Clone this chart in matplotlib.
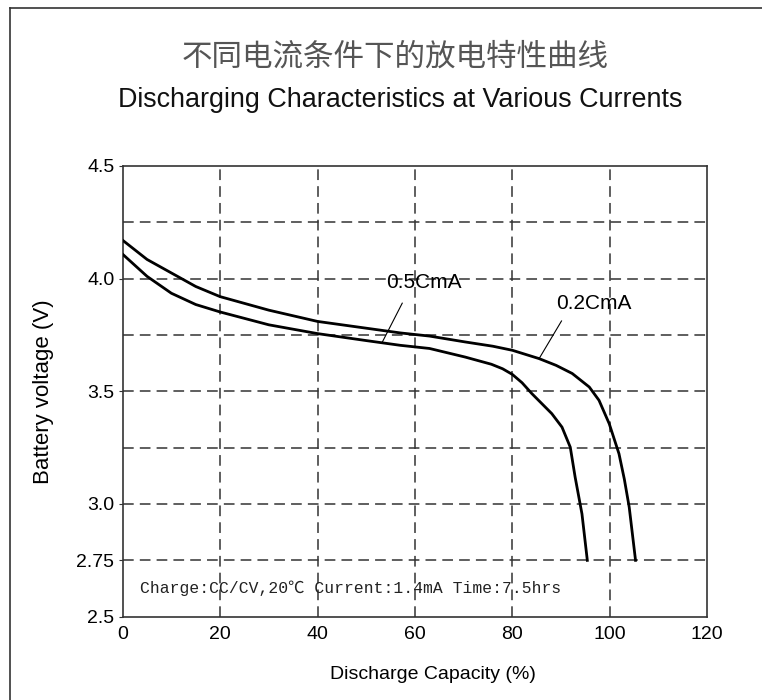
import numpy as np
import matplotlib
matplotlib.use("Agg")
import matplotlib.pyplot as plt
from matplotlib.lines import Line2D

# discharge curves
cap_02 = [0, 5, 10, 15, 20, 30, 40, 50, 57, 63, 70.3, 76, 80, 85.5, 89, 92.3, 95.8, 97.8,
          99.9, 101.9, 103, 104, 105.3]
volt_02 = [4.17, 4.085, 4.025, 3.965, 3.92, 3.86, 3.81, 3.78, 3.759, 3.745, 3.719, 3.70,
           3.682, 3.645, 3.615, 3.579, 3.519, 3.46, 3.356, 3.223, 3.11, 2.986, 2.75]

cap_05 = [0, 5, 10, 15, 20, 30, 40, 50, 57, 63, 70.3, 75.7, 78, 80, 82, 84, 88.1, 90.2, 91.9,
          92.9, 94.3, 95.4]
volt_05 = [4.108, 4.01, 3.935, 3.885, 3.852, 3.795, 3.756, 3.725, 3.704, 3.69, 3.652, 3.62,
           3.60, 3.575, 3.538, 3.49, 3.401, 3.341, 3.252, 3.119, 2.956, 2.75]

x_ticks = [0, 20, 40, 60, 80, 100, 120]
y_ticks = [2.5, 2.75, 3.0, 3.5, 4.0, 4.5]
y_tick_labels = ['2.5', '2.75', '3.0', '3.5', '4.0', '4.5']
y_grid = [2.75, 3.0, 3.25, 3.5, 3.75, 4.0, 4.25]
x_grid = [20, 40, 60, 80, 100]

title_cn = "不同电流条件下的放电特性曲线"
title_en = "Discharging Characteristics at Various Currents"
note = "Charge:CC/CV,20℃ Current:1.4mA Time:7.5hrs"

sans = ['Liberation Sans', 'DejaVu Sans']

fig = plt.figure(figsize=(7.62, 7.0), dpi=100)
ax = fig.add_axes([0.161, 0.119, 0.767, 0.644])

for yv in y_grid:
    ax.axhline(yv, color='#333333', lw=1.1, ls=(0, (7, 4)), zorder=1)
for xv in x_grid:
    ax.axvline(xv, color='#333333', lw=1.1, ls=(0, (7, 4)), zorder=1)

ax.plot(cap_02, volt_02, color='black', lw=2.0, zorder=3, solid_joinstyle='round')
ax.plot(cap_05, volt_05, color='black', lw=2.0, zorder=3, solid_joinstyle='round')

# curve labels with pointer lines
ax.text(54.1, 3.984, "0.5CmA", fontsize=15, family=sans, va='center', ha='left', zorder=4)
ax.plot([57.4, 53.3], [3.891, 3.718], color='black', lw=0.8, zorder=4)
ax.text(89.0, 3.891, "0.2CmA", fontsize=15, family=sans, va='center', ha='left', zorder=4)
ax.plot([90.1, 85.5], [3.812, 3.645], color='black', lw=0.8, zorder=4)

ax.text(3.5, 2.627, note, fontsize=11.8,
        family=['Liberation Mono', 'DejaVu Sans Mono', 'Noto Sans CJK SC'],
        va='center', ha='left', color='#222222', zorder=4)

ax.set_xlim(0, 120)
ax.set_ylim(2.5, 4.5)
ax.set_xticks(x_ticks)
ax.set_yticks(y_ticks)
ax.set_xticklabels([str(v) for v in x_ticks], family=sans, fontsize=14)
ax.set_yticklabels(y_tick_labels, family=sans, fontsize=14)
ax.tick_params(axis='x', length=0, pad=7)
ax.tick_params(axis='y', length=3, direction='out', pad=3, color='#333333')
for sp in ax.spines.values():
    sp.set_color('#333333')
    sp.set_linewidth(1.2)

ax.set_xlabel("Discharge Capacity (%)", family=sans, fontsize=14)
ax.xaxis.set_label_coords(0.53, -0.11)
ax.set_ylabel("Battery voltage (V)", family=sans, fontsize=16)
ax.yaxis.set_label_coords(-0.117, 0.5)

fig.text(0.519, 0.918, title_cn, fontsize=22, family=['Noto Sans CJK SC', 'DejaVu Sans'],
         fontweight='light', color='#555555', ha='center', va='center')
fig.text(0.525, 0.857, title_en, fontsize=19.4, family=sans, color='#111111',
         ha='center', va='center')

# outer frame (top and left edges)
fig.add_artist(Line2D([10 / 762, 1.0], [1 - 8 / 700, 1 - 8 / 700], transform=fig.transFigure,
                      color='#333333', lw=1.2))
fig.add_artist(Line2D([10 / 762, 10 / 762], [0.0, 1 - 8 / 700], transform=fig.transFigure,
                      color='#333333', lw=1.2))

fig.savefig("out.png", dpi=100)
